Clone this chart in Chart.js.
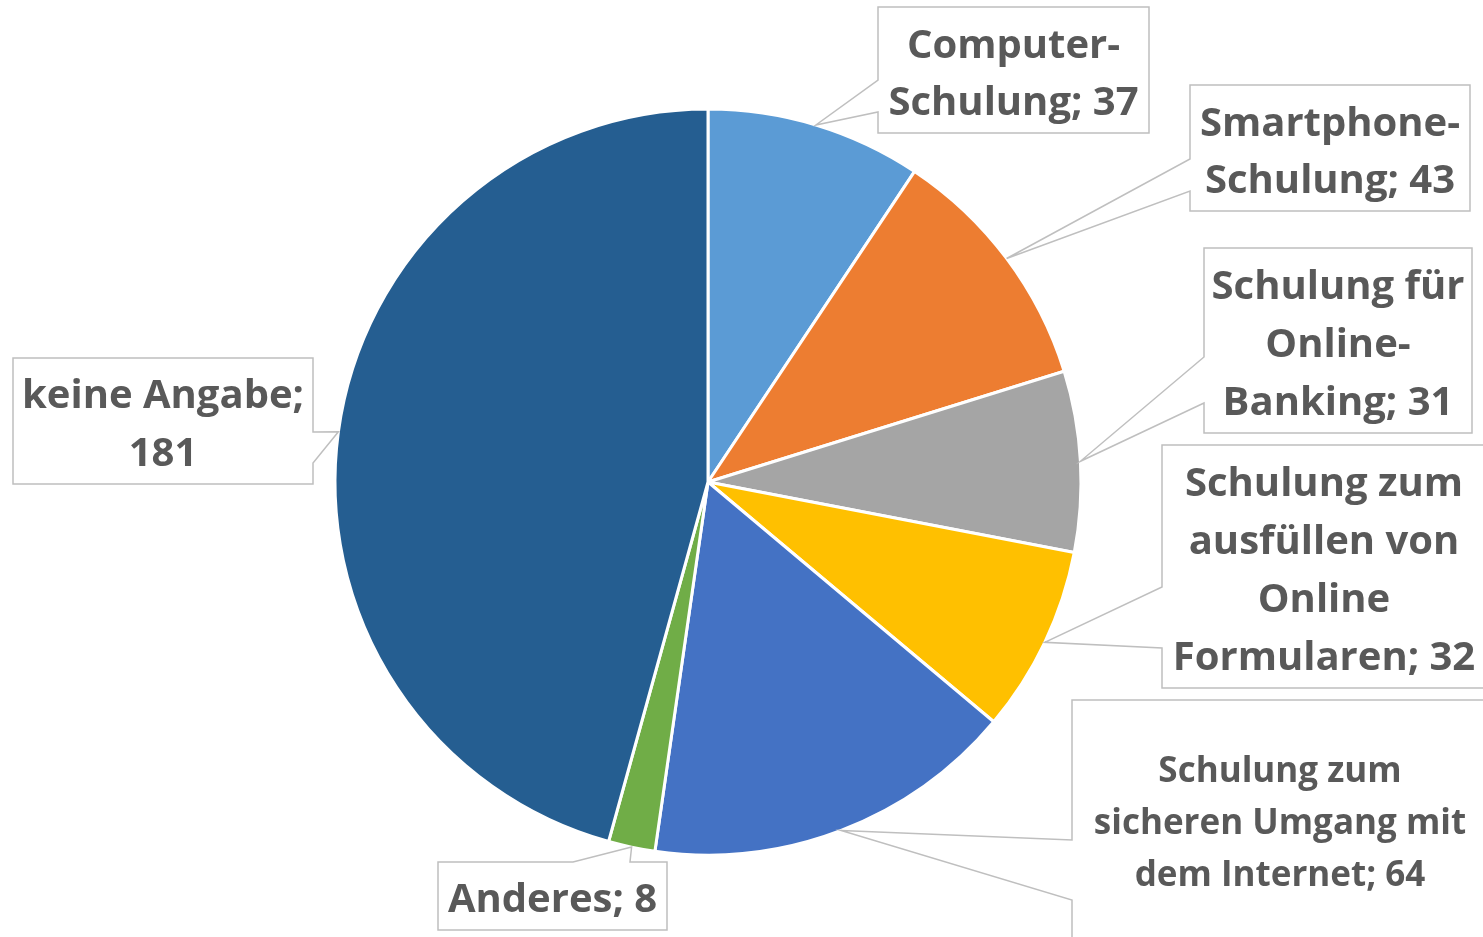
<!DOCTYPE html>
<html>
<head>
<meta charset="utf-8">
<script src="https://cdn.jsdelivr.net/npm/chart.js@4"></script>
<style>
  body { margin: 0; background: #ffffff; }
  #wrap { width: 1483px; height: 937px; position: relative; }
</style>
</head>
<body>
<div id="wrap"><canvas id="pieChart"></canvas></div>
<script>
const kategorien = [
    ['Computer-', 'Schulung; 37'],
    ['Smartphone-', 'Schulung; 43'],
    ['Schulung für', 'Online-', 'Banking; 31'],
    ['Schulung zum', 'ausfüllen von', 'Online', 'Formularen; 32'],
    ['Schulung zum', 'sicheren Umgang mit', 'dem Internet; 64'],
    ['Anderes; 8'],
    ['keine Angabe;', '181']
];
const anzahl = [37, 43, 31, 32, 64, 8, 181];
const farben = ['#5B9BD5', '#ED7D31', '#A5A5A5', '#FFC000', '#4472C4', '#70AD47', '#255E91'];

// Lage der Beschriftungskästen (Pixel): Kasten, Seite des Zeigers, Zeigerbasis, Schrift
const kaesten = [
    { box: [878, 7, 1149, 133], seite: 'left', b1: 80, b2: 112, size: 40, zeile: 57 },
    { box: [1190, 85, 1470, 211], seite: 'left', b1: 159, b2: 191, size: 40, zeile: 57 },
    { box: [1204, 248, 1472, 433], seite: 'left', b1: 357, b2: 403, size: 40, zeile: 58 },
    { box: [1162, 445, 1486, 688], seite: 'left', b1: 587, b2: 648, size: 40, zeile: 58 },
    { box: [1072, 700, 1490, 945], seite: 'left', b1: 840, b2: 900, size: 35, zeile: 52, mitte: 1280, mitteY: 824 },
    { box: [438, 862, 667, 930], seite: 'top', b1: 573, b2: 630, size: 40, zeile: 58 },
    { box: [13, 358, 313, 484], seite: 'right', b1: 432, b2: 463, size: 40, zeile: 58 }
];

const calloutPlugin = {
    id: 'callouts',
    afterDatasetsDraw(chart) {
        const ctx = chart.ctx;
        const meta = chart.getDatasetMeta(0);
        meta.data.forEach((arc, i) => {
            const p = arc.getProps(['x', 'y', 'startAngle', 'endAngle', 'outerRadius'], true);
            const mid = (p.startAngle + p.endAngle) / 2;
            const tx = p.x + Math.cos(mid) * p.outerRadius;
            const ty = p.y + Math.sin(mid) * p.outerRadius;
            const k = kaesten[i];
            const [x0, y0, x1, y1] = k.box;

            ctx.save();
            ctx.beginPath();
            if (k.seite === 'left') {
                ctx.moveTo(x0, y0); ctx.lineTo(x1, y0); ctx.lineTo(x1, y1); ctx.lineTo(x0, y1);
                ctx.lineTo(x0, k.b2); ctx.lineTo(tx, ty); ctx.lineTo(x0, k.b1);
            } else if (k.seite === 'right') {
                ctx.moveTo(x0, y0); ctx.lineTo(x1, y0); ctx.lineTo(x1, k.b1); ctx.lineTo(tx, ty);
                ctx.lineTo(x1, k.b2); ctx.lineTo(x1, y1); ctx.lineTo(x0, y1);
            } else {
                ctx.moveTo(x0, y0); ctx.lineTo(k.b1, y0); ctx.lineTo(tx, ty); ctx.lineTo(k.b2, y0);
                ctx.lineTo(x1, y0); ctx.lineTo(x1, y1); ctx.lineTo(x0, y1);
            }
            ctx.closePath();
            ctx.fillStyle = '#ffffff';
            ctx.fill();
            ctx.strokeStyle = '#BFBFBF';
            ctx.lineWidth = 1.5;
            ctx.stroke();

            const zeilen = kategorien[i];
            const cx = k.mitte || (x0 + x1) / 2;
            const cy = k.mitteY || (y0 + y1) / 2 + 5;
            ctx.fillStyle = '#595959';
            ctx.font = 'bold ' + k.size + 'px "Open Sans"';
            ctx.textAlign = 'center';
            ctx.textBaseline = 'middle';
            zeilen.forEach((z, j) => {
                const y = cy + (j - (zeilen.length - 1) / 2) * k.zeile;
                ctx.fillText(z, cx, y);
            });
            ctx.restore();
        });
    }
};

new Chart(document.getElementById('pieChart'), {
    type: 'pie',
    data: {
        labels: kategorien.map(z => z.join(' ')),
        datasets: [{
            data: anzahl,
            backgroundColor: farben,
            borderColor: '#ffffff',
            borderWidth: 3
        }]
    },
    options: {
        responsive: true,
        maintainAspectRatio: false,
        animation: false,
        radius: 373,
        layout: { padding: { left: 0, right: 67, top: 27, bottom: 0 } },
        plugins: {
            legend: { display: false },
            tooltip: { enabled: false }
        }
    },
    plugins: [calloutPlugin]
});
</script>
</body>
</html>
